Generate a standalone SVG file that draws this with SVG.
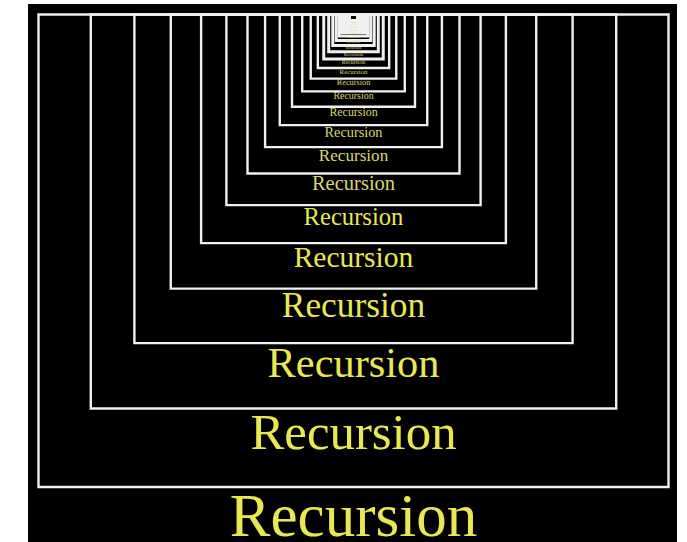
<svg xmlns="http://www.w3.org/2000/svg" width="687" height="542" viewBox="0 0 687 542">
<style>
.frame{fill:none;stroke:#f0f0f0;stroke-width:2.4;vector-effect:non-scaling-stroke}
.inner .frame{stroke-width:3}
.label{fill:#e8e850;font-family:"Liberation Serif","DejaVu Serif",serif;font-size:61px;text-anchor:middle}
.small .label{fill:#d8d66e}
</style>
<rect x="0" y="0" width="687" height="542" fill="#ffffff"/>
<rect x="28" y="4" width="649" height="538" fill="#000000"/>
<g id="connectors"></g>
<g id="level-0" transform="translate(353.5 14.5) scale(1)"><rect class="frame" x="-315" y="0" width="630" height="472.5"/><text class="label" x="0" y="521.5">Recursion</text></g>
<g id="level-1" transform="translate(353.5 14.5) scale(0.834)"><rect class="frame" x="-315" y="0" width="630" height="472.5"/><text class="label" x="0" y="521.5">Recursion</text></g>
<g id="level-2" transform="translate(353.5 14.5) scale(0.695556)"><rect class="frame" x="-315" y="0" width="630" height="472.5"/><text class="label" x="0" y="521.5">Recursion</text></g>
<g id="level-3" transform="translate(353.5 14.5) scale(0.580094)"><rect class="frame" x="-315" y="0" width="630" height="472.5"/><text class="label" x="0" y="521.5">Recursion</text></g>
<g id="level-4" transform="translate(353.5 14.5) scale(0.483798)"><rect class="frame" x="-315" y="0" width="630" height="472.5"/><text class="label" x="0" y="521.5">Recursion</text></g>
<g id="level-5" transform="translate(353.5 14.5) scale(0.403488)"><rect class="frame" x="-315" y="0" width="630" height="472.5"/><text class="label" x="0" y="521.5">Recursion</text></g>
<g id="level-6" class="small" transform="translate(353.5 14.5) scale(0.336509)"><rect class="frame" x="-315" y="0" width="630" height="472.5"/><text class="label" x="0" y="521.5">Recursion</text></g>
<g id="level-7" class="small" transform="translate(353.5 14.5) scale(0.280648)"><rect class="frame" x="-315" y="0" width="630" height="472.5"/><text class="label" x="0" y="521.5">Recursion</text></g>
<g id="level-8" class="small" transform="translate(353.5 14.5) scale(0.23406)"><rect class="frame" x="-315" y="0" width="630" height="472.5"/><text class="label" x="0" y="521.5">Recursion</text></g>
<g id="level-9" class="small" transform="translate(353.5 14.5) scale(0.195206)"><rect class="frame" x="-315" y="0" width="630" height="472.5"/><text class="label" x="0" y="521.5">Recursion</text></g>
<g id="level-10" class="small" transform="translate(353.5 14.5) scale(0.162802)"><rect class="frame" x="-315" y="0" width="630" height="472.5"/><text class="label" x="0" y="521.5">Recursion</text></g>
<g id="level-11" class="small" transform="translate(353.5 14.5) scale(0.135777)"><rect class="frame" x="-315" y="0" width="630" height="472.5"/><text class="label" x="0" y="521.5">Recursion</text></g>
<g id="level-12" class="small" transform="translate(353.5 14.5) scale(0.113238)"><rect class="frame" x="-315" y="0" width="630" height="472.5"/><text class="label" x="0" y="521.5">Recursion</text></g>
<g id="level-13" class="small inner" transform="translate(353.5 14.5) scale(0.09444)"><rect class="frame" x="-315" y="0" width="630" height="472.5"/><text class="label" x="0" y="521.5">Recursion</text></g>
<g id="level-14" class="small inner" transform="translate(353.5 14.5) scale(0.078763)"><rect class="frame" x="-315" y="0" width="630" height="472.5"/><text class="label" x="0" y="521.5">Recursion</text></g>
<g id="level-15" class="small inner" transform="translate(353.5 14.5) scale(0.065688)"><rect class="frame" x="-315" y="0" width="630" height="472.5"/><text class="label" x="0" y="521.5">Recursion</text></g>
<g id="level-16" class="small inner" transform="translate(353.5 14.5) scale(0.054783)"><rect class="frame" x="-315" y="0" width="630" height="472.5"/><text class="label" x="0" y="521.5">Recursion</text></g>
<g id="level-17" class="small inner" transform="translate(353.5 14.5) scale(0.045689)"><rect class="frame" x="-315" y="0" width="630" height="472.5"/><text class="label" x="0" y="521.5">Recursion</text></g>
<g id="level-18" class="small inner" transform="translate(353.5 14.5) scale(0.038104)"><rect class="frame" x="-315" y="0" width="630" height="472.5"/><text class="label" x="0" y="521.5">Recursion</text></g>
<g id="level-19" class="small inner" transform="translate(353.5 14.5) scale(0.031779)"><rect class="frame" x="-315" y="0" width="630" height="472.5"/><text class="label" x="0" y="521.5">Recursion</text></g>
<g id="level-20" class="small inner" transform="translate(353.5 14.5) scale(0.026503)"><rect class="frame" x="-315" y="0" width="630" height="472.5"/><text class="label" x="0" y="521.5">Recursion</text></g>
<g id="level-21" class="small inner" transform="translate(353.5 14.5) scale(0.022104)"><rect class="frame" x="-315" y="0" width="630" height="472.5"/><text class="label" x="0" y="521.5">Recursion</text></g>
<g id="level-22" class="small inner" transform="translate(353.5 14.5) scale(0.018435)"><rect class="frame" x="-315" y="0" width="630" height="472.5"/><text class="label" x="0" y="521.5">Recursion</text></g>
<g id="level-23" class="small inner" transform="translate(353.5 14.5) scale(0.015375)"><rect class="frame" x="-315" y="0" width="630" height="472.5"/><text class="label" x="0" y="521.5">Recursion</text></g>
<g id="level-24" class="small inner" transform="translate(353.5 14.5) scale(0.012823)"><rect class="frame" x="-315" y="0" width="630" height="472.5"/><text class="label" x="0" y="521.5">Recursion</text></g>
</svg>
